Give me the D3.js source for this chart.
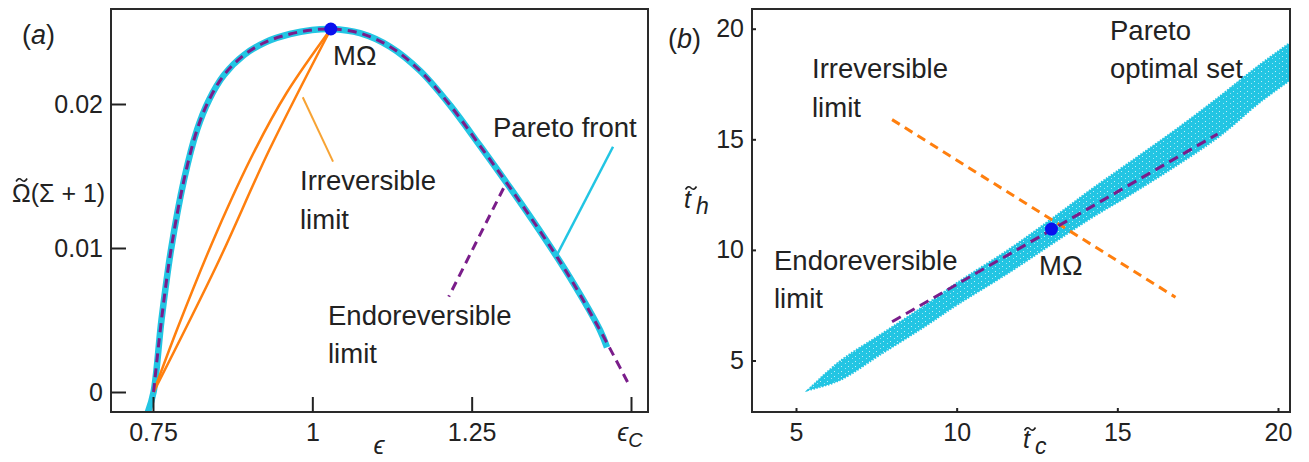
<!DOCTYPE html>
<html>
<head>
<meta charset="utf-8">
<script src="https://cdn.jsdelivr.net/npm/d3@7"></script>
<style>
  body { margin: 0; background: #fff; }
  text { font-family: 'Liberation Sans', Arial, sans-serif; fill: #222; }
</style>
</head>
<body>
<svg id="chart" width="1309" height="462"></svg>
<script>
// ---- panel (a) data ----
const paretoEps   = [0.742, 0.7509, 0.7633, 0.7782, 0.7986, 0.819, 0.8379, 0.8614, 0.8928, 0.9273, 0.965, 0.9995, 1.029, 1.0748, 1.1219, 1.169, 1.216, 1.2631, 1.3102, 1.3572, 1.4043, 1.4514, 1.4624];
const paretoOmega = [-0.0014, 0, 0.005, 0.00986, 0.01472, 0.01819, 0.02028, 0.02201, 0.0234, 0.02431, 0.02486, 0.02514, 0.02521, 0.02492, 0.02398, 0.02231, 0.01992, 0.0171, 0.01419, 0.01117, 0.00794, 0.00429, 0.0031];
const endoEps     = [0.7509, 0.7633, 0.7782, 0.7986, 0.819, 0.8379, 0.8614, 0.8928, 0.9273, 0.965, 0.9995, 1.029, 1.0748, 1.1219, 1.169, 1.216, 1.2631, 1.3102, 1.3572, 1.4043, 1.4514, 1.4749, 1.4953];
const endoOmega   = [0, 0.005, 0.00986, 0.01472, 0.01819, 0.02028, 0.02201, 0.0234, 0.02431, 0.02486, 0.02514, 0.02521, 0.02492, 0.02398, 0.02231, 0.01992, 0.0171, 0.01419, 0.01117, 0.00794, 0.00429, 0.00236, 0.00063];
const irrevAEps   = [0.751, 0.79, 0.85, 0.91, 0.96, 1.029];
const irrevAOmega = [0, 0.0046, 0.0111, 0.0168, 0.0208, 0.02521];
const irrevBEps   = [0.751, 0.85, 0.9324, 1.029];
const irrevBOmega = [0, 0.0088, 0.0168, 0.02521];
const maxOmegaA   = [1.029, 0.02521];
const xTicksA = [0.75, 1, 1.25, 1.5];
const yTicksA = [0, 0.01, 0.02];

// ---- panel (b) data ----
const bandTc    = [5.37, 6.35, 7.66, 8.97, 10.05, 11.6, 12.95, 14.2, 15.52, 16.83, 18.15, 19.46, 20.6];
const bandUpper = [3.66, 4.95, 6.2, 7.45, 8.55, 10.0, 11.4, 12.75, 14.1, 15.45, 16.9, 18.4, 19.6];
const bandLower = [3.66, 4.1, 5.3, 6.5, 7.55, 8.95, 10.25, 11.45, 12.6, 13.8, 15.1, 16.7, 17.9];
const endoLineB  = [[7.99, 6.75], [18.12, 15.24]];
const irrevLineB = [[7.99, 15.89], [16.81, 7.86]];
const maxOmegaB  = [12.95, 10.94];
const xTicksB = [5, 10, 15, 20];
const yTicksB = [5, 10, 15, 20];

const colors = {
    cyan: '#22c5e3',
    purple: '#7a1d8a',
    orange: '#ff7f0e',
    pointer: '#f7a334',
    blue: '#0a10ee',
};

const svg = d3.select('#chart');
const FS = 25;      // tick labels
const ANN = 27.5;   // annotations

function frame(g, x0, y0, x1, y1) {
    g.append('rect')
        .attr('x', x0).attr('y', y0)
        .attr('width', x1 - x0).attr('height', y1 - y0)
        .attr('fill', 'none').attr('stroke', '#2a2a2a').attr('stroke-width', 2);
}

function styleAxis(sel) {
    sel.select('.domain').remove();
    sel.selectAll('line').attr('stroke', '#222').attr('stroke-width', 2);
    sel.selectAll('text').style('font-size', FS + 'px').attr('fill', '#222');
}

function label(g, x, y, lines, lh) {
    lines.forEach((t, i) => {
        g.append('text').attr('x', x).attr('y', y + i * lh)
            .style('font-size', ANN + 'px').text(t);
    });
}

// small tilde accent drawn as a path, centred on (x, y)
function tilde(g, x, y) {
    const p = d3.path();
    p.moveTo(x - 5.5, y + 1.5);
    p.quadraticCurveTo(x - 3, y - 3, x, y);
    p.quadraticCurveTo(x + 3, y + 3, x + 5.5, y - 1.5);
    g.append('path').attr('d', p.toString())
        .attr('fill', 'none').attr('stroke', '#222').attr('stroke-width', 1.6);
}

// speckle texture for the scattered set
const defs = svg.append('defs');
const pat = defs.append('pattern').attr('id', 'speckle')
    .attr('patternUnits', 'userSpaceOnUse').attr('width', 7).attr('height', 5);
pat.append('rect').attr('width', 7).attr('height', 5).attr('fill', colors.cyan);
pat.append('rect').attr('x', 1).attr('y', 1).attr('width', 1).attr('height', 1).attr('fill', '#bfeef8');
pat.append('rect').attr('x', 5).attr('y', 3).attr('width', 1).attr('height', 1).attr('fill', '#9fe6f4');

// ================= panel (a) =================
const gA = svg.append('g');
const xA = d3.scaleLinear().domain([0.75, 1.5]).range([153, 631]);
const yA = d3.scaleLinear().domain([0, 0.02]).range([392, 104]);

defs.append('clipPath').attr('id', 'clipA')
    .append('rect').attr('x', 111).attr('y', 9).attr('width', 537).attr('height', 403);

const lineA = d3.line().x(d => xA(d[0])).y(d => yA(d[1])).curve(d3.curveCatmullRom.alpha(0.5));
const plotA = gA.append('g').attr('clip-path', 'url(#clipA)');

plotA.append('path').datum(d3.zip(paretoEps, paretoOmega)).attr('d', lineA)
    .attr('fill', 'none').attr('stroke', colors.cyan).attr('stroke-width', 6.5);
plotA.append('path').datum(d3.zip(irrevAEps, irrevAOmega)).attr('d', lineA)
    .attr('fill', 'none').attr('stroke', colors.orange).attr('stroke-width', 2.5);
plotA.append('path').datum(d3.zip(irrevBEps, irrevBOmega)).attr('d', lineA)
    .attr('fill', 'none').attr('stroke', colors.orange).attr('stroke-width', 2.5);
plotA.append('path').datum(d3.zip(endoEps, endoOmega)).attr('d', lineA)
    .attr('fill', 'none').attr('stroke', colors.purple).attr('stroke-width', 3)
    .attr('stroke-dasharray', '9,6');

// pointers
const ptr = d3.line().x(d => xA(d[0])).y(d => yA(d[1]));
plotA.append('path').datum([[0.985, 0.02047], [1.0325, 0.016]]).attr('d', ptr)
    .attr('stroke', colors.pointer).attr('stroke-width', 2);
plotA.append('path').datum([[1.4718, 0.01703], [1.3824, 0.0094]]).attr('d', ptr)
    .attr('stroke', colors.cyan).attr('stroke-width', 2.5);
plotA.append('path').datum([[1.3, 0.01415], [1.214, 0.00662]]).attr('d', ptr)
    .attr('stroke', colors.purple).attr('stroke-width', 3).attr('stroke-dasharray', '9,6');

plotA.append('circle').attr('cx', xA(maxOmegaA[0])).attr('cy', yA(maxOmegaA[1]))
    .attr('r', 6.5).attr('fill', colors.blue);

frame(gA, 111, 9, 648, 412);

gA.append('g').attr('transform', 'translate(0,412)')
    .call(d3.axisBottom(xA).tickValues(xTicksA).tickSize(-15).tickPadding(11)
        .tickFormat(d => d === 1.5 ? '' : String(d)))
    .call(styleAxis);
gA.append('g').attr('transform', 'translate(111,0)')
    .call(d3.axisLeft(yA).tickValues(yTicksA).tickSize(-15).tickPadding(8)
        .tickFormat(d => String(d)))
    .call(styleAxis);

// epsilon_C tick label
const eC = gA.append('text').attr('x', xA(1.5) - 1).attr('y', 441).attr('text-anchor', 'middle')
    .style('font-size', FS + 'px');
eC.append('tspan').style('font-style', 'italic').text('\u03F5');
eC.append('tspan').attr('dy', 6).style('font-style', 'italic').style('font-size', '20px').text('C');

gA.append('text').attr('x', 379).attr('y', 454).attr('text-anchor', 'middle')
    .style('font-size', FS + 'px').style('font-style', 'italic').text('\u03F5');

// y label: Omega-tilde (Sigma + 1)
gA.append('text').attr('x', 12).attr('y', 202)
    .style('font-size', FS + 'px').text('\u03A9(\u03A3 + 1)');
tilde(gA, 21.6, 180);

const la = gA.append('text').attr('x', 22).attr('y', 44).style('font-size', '27px');
la.append('tspan').text('(');
la.append('tspan').style('font-style', 'italic').text('a');
la.append('tspan').text(')');

label(gA, 333, 65, ['M\u03A9'], 0);
label(gA, 300, 190, ['Irreversible', 'limit'], 39);
label(gA, 493, 137, ['Pareto front'], 0);
label(gA, 328, 325, ['Endoreversible', 'limit'], 38);

// ================= panel (b) =================
const gB = svg.append('g');
const xB = d3.scaleLinear().domain([5, 20]).range([796, 1278]);
const yB = d3.scaleLinear().domain([5, 20]).range([360.5, 28.7]);

defs.append('clipPath').attr('id', 'clipB')
    .append('rect').attr('x', 752).attr('y', 9).attr('width', 538).attr('height', 403);
const plotB = gB.append('g').attr('clip-path', 'url(#clipB)');

const band = d3.area()
    .x((d, i) => xB(bandTc[i]))
    .y0((d, i) => yB(bandLower[i]))
    .y1((d, i) => yB(bandUpper[i]))
    .curve(d3.curveCatmullRom.alpha(0.5));
plotB.append('path').datum(bandTc).attr('d', band)
    .attr('fill', 'url(#speckle)').attr('stroke', colors.cyan).attr('stroke-width', 2)
    .attr('stroke-dasharray', '1.5,1.5');

const lineB = d3.line().x(d => xB(d[0])).y(d => yB(d[1]));
plotB.append('path').datum(irrevLineB).attr('d', lineB)
    .attr('stroke', colors.orange).attr('stroke-width', 3).attr('stroke-dasharray', '9,6');
plotB.append('path').datum(endoLineB).attr('d', lineB)
    .attr('stroke', colors.purple).attr('stroke-width', 3).attr('stroke-dasharray', '10,6');
plotB.append('circle').attr('cx', xB(maxOmegaB[0])).attr('cy', yB(maxOmegaB[1]))
    .attr('r', 6.5).attr('fill', colors.blue);

frame(gB, 752, 9, 1290, 412);

gB.append('g').attr('transform', 'translate(0,412)')
    .call(d3.axisBottom(xB).tickValues(xTicksB).tickSize(-4).tickPadding(11))
    .call(styleAxis);
gB.append('g').attr('transform', 'translate(752,0)')
    .call(d3.axisLeft(yB).tickValues(yTicksB).tickSize(-4).tickPadding(8))
    .call(styleAxis);

// axis labels t~_h and t~_c
const th = gB.append('text').attr('x', 684).attr('y', 208).style('font-size', FS + 'px');
th.append('tspan').style('font-style', 'italic').text('t');
th.append('tspan').attr('dx', 5).attr('dy', 6).style('font-style', 'italic').style('font-size', '23px').text('h');
tilde(gB, 691, 188);

const tc = gB.append('text').attr('x', 1023).attr('y', 448).style('font-size', FS + 'px');
tc.append('tspan').style('font-style', 'italic').text('t');
tc.append('tspan').attr('dx', 5).attr('dy', 6).style('font-style', 'italic').style('font-size', '23px').text('c');
tilde(gB, 1030, 429);

const lb = gB.append('text').attr('x', 668).attr('y', 48).style('font-size', '27px');
lb.append('tspan').text('(');
lb.append('tspan').style('font-style', 'italic').text('b');
lb.append('tspan').text(')');

label(gB, 1110, 40, ['Pareto', 'optimal set'], 38);
label(gB, 812, 78, ['Irreversible', 'limit'], 39);
label(gB, 774, 270, ['Endoreversible', 'limit'], 38);
label(gB, 1039, 275, ['M\u03A9'], 0);
</script>
</body>
</html>
